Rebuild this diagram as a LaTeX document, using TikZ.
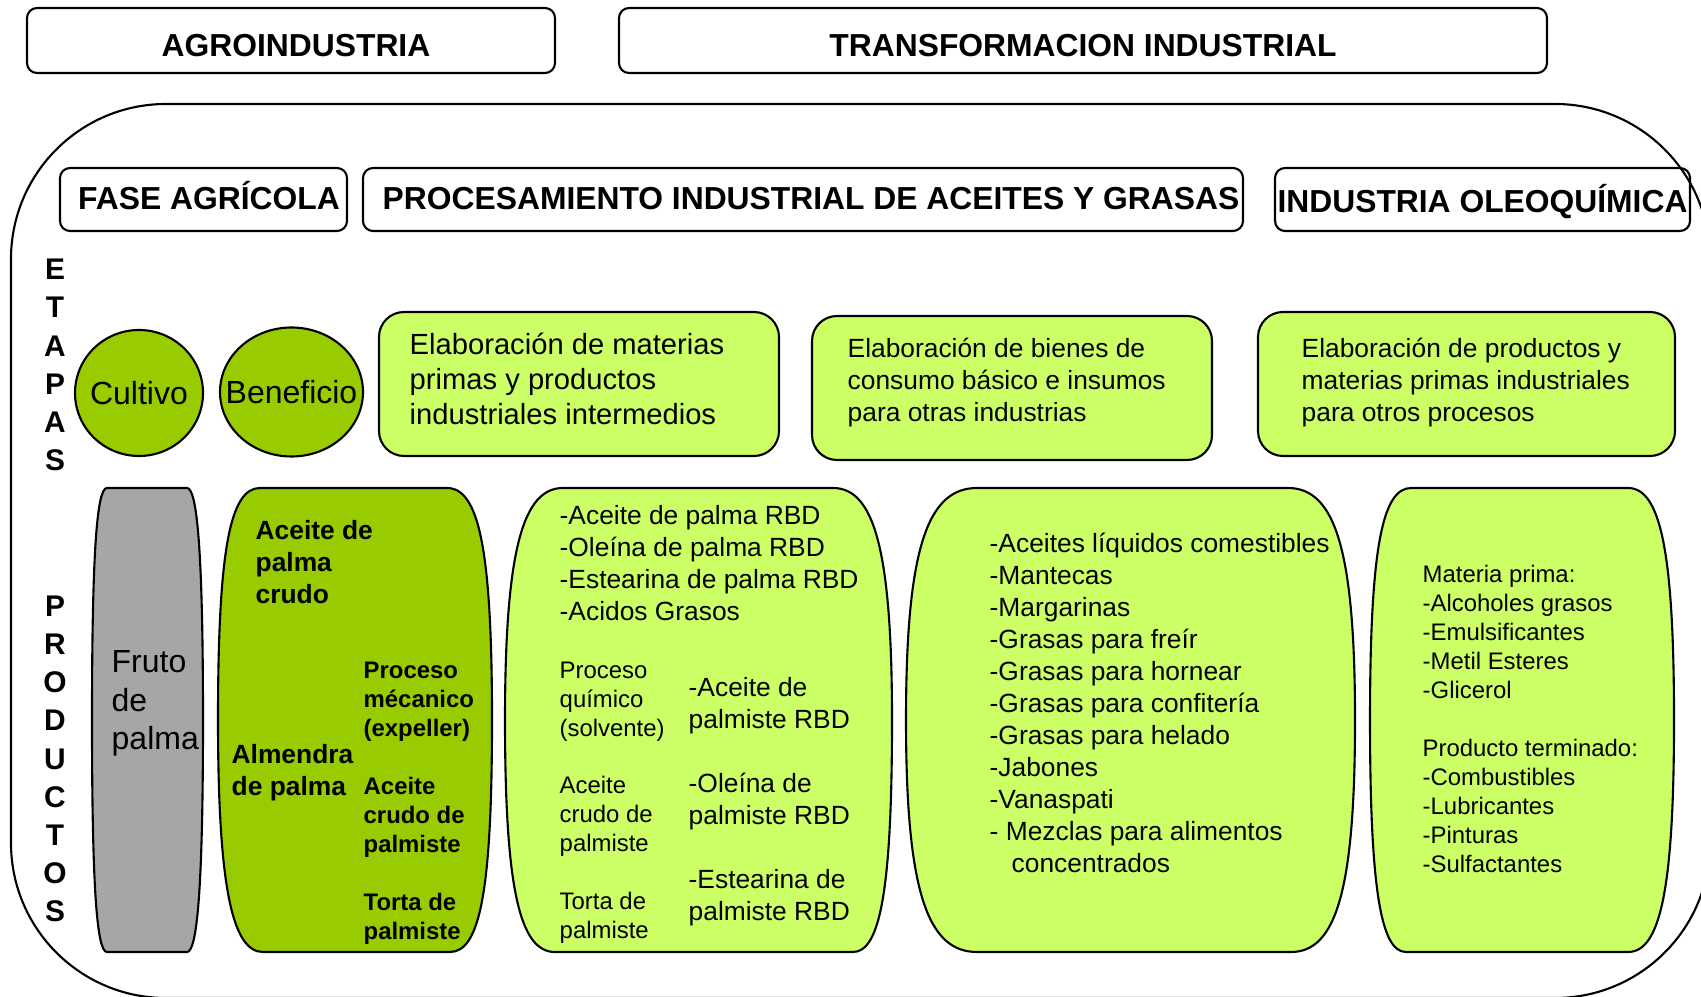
\documentclass[tikz,border=0pt]{standalone}
\usepackage{fontspec}
\setmainfont{Liberation Sans}
\definecolor{oliva}{HTML}{99CC00}
\definecolor{lima}{HTML}{CCFF66}
\definecolor{gris}{HTML}{A6A6A6}

\begin{document}
\begin{tikzpicture}[
  edge/.style={line width=0.6pt},
  headtxt/.style={font=\fontsize{9.05}{10.9}\selectfont\bfseries, inner sep=0pt, anchor=base},
  lettertxt/.style={font=\fontsize{8.5}{10.85}\selectfont\bfseries, align=center, inner sep=0pt},
  bigtxt/.style={font=\fontsize{9.1}{10.95}\selectfont, align=left, inner sep=0pt},
  midtxt/.style={font=\fontsize{8.3}{9.96}\selectfont, align=left, inner sep=0pt, anchor=west},
  listtxt/.style={font=\fontsize{7.5}{9.1}\selectfont, align=left, inner sep=0pt, anchor=west},
  smalltxt/.style={font=\fontsize{6.8}{8.25}\selectfont, align=left, inner sep=0pt, anchor=west}
]
\useasboundingbox (0,0) rectangle (17.01,9.96);
\draw[edge, rounded corners=1.55cm] (0.11,8.92) rectangle (17.10,-0.02);
\draw[edge, rounded corners=0.1cm] (0.27,9.88) rectangle (5.55,9.23);
\draw[edge, rounded corners=0.1cm] (6.19,9.88) rectangle (15.47,9.23);
\draw[edge, rounded corners=0.1cm] (0.60,8.28) rectangle (3.47,7.65);
\draw[edge, rounded corners=0.1cm] (3.63,8.28) rectangle (12.43,7.65);
\draw[edge, rounded corners=0.1cm] (12.75,8.28) rectangle (16.90,7.65);
\node[headtxt] (agro) at (2.96,9.39) {AGROINDUSTRIA};
\node[headtxt] (trans) at (10.83,9.39) {TRANSFORMACION INDUSTRIAL};
\node[headtxt] (fase) at (2.09,7.864) {FASE AGRÍCOLA};
\node[headtxt] (proc) at (8.11,7.864) {PROCESAMIENTO INDUSTRIAL DE ACEITES Y GRASAS};
\node[headtxt] (oleo) at (14.825,7.83) {INDUSTRIA OLEOQUÍMICA};
%%%%
\node[lettertxt] (etapas) at (0.55,6.31) {E\\T\\A\\P\\A\\S};
\node[lettertxt] (productos) at (0.55,2.37) {P\\R\\O\\D\\U\\C\\T\\O\\S};
%%%%
\draw[edge, fill=oliva] (1.39,6.03) ellipse (0.64 and 0.63);
\draw[edge, fill=oliva] (2.915,6.04) ellipse (0.715 and 0.645);
\node[bigtxt] (cultivo) at (1.39,6.03) {Cultivo};
\node[bigtxt] (beneficio) at (2.915,6.04) {Beneficio};
\draw[edge, fill=lima, rounded corners=0.25cm] (3.79,6.84) rectangle (7.79,5.40);
\draw[edge, fill=lima, rounded corners=0.25cm] (8.12,6.80) rectangle (12.12,5.36);
\draw[edge, fill=lima, rounded corners=0.25cm] (12.58,6.84) rectangle (16.75,5.40);
\node[midtxt] (elab1) at (4.09,6.17) {Elaboración de materias\\primas y productos\\industriales intermedios};
\node[listtxt] (elab2) at (8.47,6.133) {Elaboración de bienes de\\consumo básico e insumos\\para otras industrias};
\node[listtxt] (elab3) at (13.01,6.133) {Elaboración de productos y\\materias primas industriales\\para otros procesos};
%%%%
\draw[edge, fill=gris] (1.07,5.08) -- (1.87,5.08) .. controls +(0.1,0) and +(0,1.7) .. (2.03,2.76) .. controls +(0,-1.7) and +(0.1,0) .. (1.87,0.44) -- (1.07,0.44) .. controls +(-0.1,0) and +(0,-1.7) .. (0.92,2.76) .. controls +(0,1.7) and +(-0.1,0) .. (1.07,5.08) -- cycle;
\draw[edge, fill=oliva] (2.60,5.08) -- (4.47,5.08) .. controls +(0.32,0) and +(0,1.7) .. (4.92,2.76) .. controls +(0,-1.7) and +(0.3,0) .. (4.50,0.44) -- (2.63,0.44) .. controls +(-0.3,0) and +(0,-1.7) .. (2.18,2.76) .. controls +(0,1.7) and +(-0.3,0) .. (2.60,5.08) -- cycle;
\draw[edge, fill=lima] (5.63,5.08) -- (8.33,5.08) .. controls +(0.41,0) and +(0,1.7) .. (8.92,2.76) .. controls +(0,-1.7) and +(0.27,0) .. (8.53,0.44) -- (5.55,0.44) .. controls +(-0.35,0) and +(0,-1.7) .. (5.05,2.76) .. controls +(0,1.7) and +(-0.4,0) .. (5.63,5.08) -- cycle;
\draw[edge, fill=lima] (9.77,5.08) -- (12.88,5.08) .. controls +(0.47,0) and +(0,1.7) .. (13.55,2.76) .. controls +(0,-1.7) and +(0.45,0) .. (12.91,0.44) -- (9.77,0.44) .. controls +(-0.5,0) and +(0,-1.7) .. (9.06,2.76) .. controls +(0,1.7) and +(-0.5,0) .. (9.77,5.08) -- cycle;
\draw[edge, fill=lima] (14.11,5.08) -- (16.28,5.08) .. controls +(0.32,0) and +(0,1.7) .. (16.74,2.76) .. controls +(0,-1.7) and +(0.32,0) .. (16.28,0.44) -- (14.06,0.44) .. controls +(-0.25,0) and +(0,-1.7) .. (13.70,2.76) .. controls +(0,1.7) and +(-0.29,0) .. (14.11,5.08) -- cycle;
%%%%
\node[bigtxt, anchor=west] (fruto) at (1.11,2.925) {Fruto\\de\\palma};
\node[listtxt, font=\fontsize{7.5}{9.1}\selectfont\bfseries] (crudo) at (2.55,4.34) {Aceite de\\palma\\crudo};
\node[listtxt, font=\fontsize{7.5}{9.1}\selectfont\bfseries] (almendra) at (2.31,2.23) {Almendra\\de palma};
\node[smalltxt, font=\fontsize{6.8}{8.25}\selectfont\bfseries] (expeller) at (3.63,2.94) {Proceso\\mécanico\\(expeller)};
\node[smalltxt, font=\fontsize{6.8}{8.25}\selectfont\bfseries] (crudopalmiste) at (3.63,1.79) {Aceite\\crudo de\\palmiste};
\node[smalltxt, font=\fontsize{6.8}{8.25}\selectfont\bfseries] (torta) at (3.63,0.77) {Torta de\\palmiste};
%%%%
\node[listtxt] (rbd) at (5.59,4.33) {-Aceite de palma RBD\\-Oleína de palma RBD\\-Estearina de palma RBD\\-Acidos Grasos};
\node[smalltxt] (solvente) at (5.59,2.94) {Proceso\\químico\\(solvente)};
\node[listtxt] (acpalmiste) at (6.88,2.90) {-Aceite de\\palmiste RBD};
\node[smalltxt] (crudo2) at (5.59,1.80) {Aceite\\crudo de\\palmiste};
\node[listtxt] (olpalmiste) at (6.88,1.94) {-Oleína de\\palmiste RBD};
\node[smalltxt] (torta2) at (5.59,0.78) {Torta de\\palmiste};
\node[listtxt] (estpalmiste) at (6.88,0.98) {-Estearina de\\palmiste RBD};
%%%%
\node[listtxt] (consumo) at (9.89,2.93) {-Aceites líquidos comestibles\\-Mantecas\\-Margarinas\\-Grasas para freír\\-Grasas para hornear\\-Grasas para confitería\\-Grasas para helado\\-Jabones\\-Vanaspati\\- Mezclas para alimentos\\\hspace*{0.22cm}concentrados};
\node[smalltxt] (oleoprod) at (14.22,2.77) {Materia prima:\\-Alcoholes grasos\\-Emulsificantes\\-Metil Esteres\\-Glicerol\\[8.25pt]Producto terminado:\\-Combustibles\\-Lubricantes\\-Pinturas\\-Sulfactantes};
\end{tikzpicture}
\end{document}
